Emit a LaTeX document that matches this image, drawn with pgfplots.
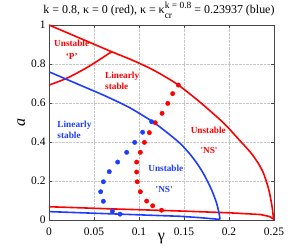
\documentclass[border=0pt]{standalone}
\usepackage{pgfplots}
\pgfplotsset{compat=1.18}
\usepackage{fontspec}
\setmainfont{Liberation Serif}
\definecolor{myred}{RGB}{255,0,0}
\definecolor{myblue}{RGB}{30,60,255}
\begin{document}
\begin{tikzpicture}
\useasboundingbox (-49bp,-31bp) rectangle (254bp,220bp);
\begin{axis}[
  scale only axis, width=225bp, height=195bp,
  xmin=0, xmax=0.25, ymin=0, ymax=1,
  xtick={0,0.05,0.1,0.15,0.2,0.25}, xticklabels={0,0.05,0.1,0.15,0.2,0.25},
  ytick={0,0.2,0.4,0.6,0.8,1}, yticklabels={0,0.2,0.4,0.6,0.8,1},
  tick align=inside, major tick length=3bp,
  grid=major, grid style={densely dotted, gray!45, line width=0.4pt},
  axis line style={gray!55!black, line width=0.6pt},
  tick style={gray!55!black, line width=0.5pt},
  ticklabel style={font=\fontsize{11.5}{13}\selectfont},
  xticklabel style={anchor=base, yshift=-15bp},
  title={k = 0.8, κ = 0 (red), κ = κ\rlap{\raisebox{-5.5bp}{\fontsize{9.5}{10}\selectfont cr}}\raisebox{4.5bp}{\fontsize{9.5}{10}\selectfont k = 0.8} = 0.23937 (blue)},
  title style={font=\fontsize{12}{13}\selectfont, at={(axis description cs:0.5,1)}, anchor=base, yshift=6bp, xshift=-2.5bp},
  xlabel={γ},
  xlabel style={font=\fontsize{16}{18}\selectfont, at={(axis description cs:0.5,0)}, anchor=base, yshift=-20bp},
  ylabel={\textit{a}},
  ylabel style={font=\fontsize{16}{18}\selectfont, at={(axis description cs:-0.1067,0.5)}, anchor=base},
]
% red outer curve
\addplot[myred, line width=1.6pt, smooth] coordinates {
(0,1.0) (0.0259,0.949) (0.0696,0.863) (0.0919,0.821) (0.1122,0.778) (0.129,0.735) (0.1437,0.692) (0.165,0.615) (0.1863,0.53) (0.1967,0.485) (0.2115,0.41) (0.2263,0.333) (0.2374,0.25) (0.2441,0.157) (0.2478,0.07) (0.2493,0.015) (0.25,0.003)
};
% red inner curve P
\addplot[myred, line width=1.6pt, smooth] coordinates {
(0,0.692) (0.0197,0.727) (0.0437,0.786) (0.0696,0.863)
};
% red lower line
\addplot[myred, line width=1.6pt] coordinates {
(0,0.068) (0.07,0.057) (0.14,0.047) (0.2,0.037) (0.235,0.028) (0.245,0.018) (0.25,0.003)
};
% blue outer curve
\addplot[myblue, line width=1.6pt, smooth] coordinates {
(0,0.76) (0.0197,0.721) (0.0567,0.648) (0.0715,0.617) (0.09,0.575) (0.1122,0.513) (0.1252,0.47) (0.1456,0.393) (0.1604,0.316) (0.1715,0.239) (0.1807,0.154) (0.1863,0.085) (0.1893,0.026) (0.19,0.003)
};
% blue lower line
\addplot[myblue, line width=1.6pt] coordinates {
(0,0.043) (0.079,0.030) (0.1456,0.019) (0.168,0.012) (0.19,0.003)
};
% red dots
\addplot[only marks, mark=*, mark size=2.2pt, myred] coordinates {
(0.125,0.05) (0.1152,0.073) (0.1085,0.097) (0.1015,0.145) (0.098,0.196) (0.0974,0.246) (0.0974,0.297) (0.1015,0.347) (0.106,0.398) (0.1115,0.448) (0.118,0.499) (0.1256,0.547) (0.132,0.598) (0.1374,0.648) (0.1437,0.692)
};
% blue dots
\addplot[only marks, mark=*, mark size=2.2pt, myblue] coordinates {
(0.0789,0.03) (0.0704,0.045) (0.0604,0.096) (0.0574,0.145) (0.0604,0.196) (0.067,0.248) (0.0763,0.297) (0.0863,0.347) (0.0952,0.398) (0.104,0.45) (0.114,0.504)
};
\node[font=\bfseries\fontsize{9.3}{13}\selectfont, text=myred, align=center, inner sep=0] at (axis cs:0.0252,0.875) {Unstable\\‘P’};
\node[font=\bfseries\fontsize{9.3}{10.5}\selectfont, text=myred, align=left, inner sep=0, anchor=west] at (axis cs:0.0622,0.713) {Linearly\\stable};
\node[font=\bfseries\fontsize{9.3}{10.5}\selectfont, text=myblue, align=left, inner sep=0, anchor=west] at (axis cs:0.0092,0.462) {Linearly\\stable};
\node[font=\bfseries\fontsize{9.3}{10.5}\selectfont, text=myred, inner sep=0] at (axis cs:0.177,0.458) {Unstable};
\node[font=\bfseries\fontsize{9.3}{10.5}\selectfont, text=myred, inner sep=0] at (axis cs:0.1778,0.355) {\textquotesingle NS\textquotesingle};
\node[font=\bfseries\fontsize{9.3}{10.5}\selectfont, text=myblue, inner sep=0] at (axis cs:0.1298,0.265) {Unstable};
\node[font=\bfseries\fontsize{9.3}{10.5}\selectfont, text=myblue, inner sep=0] at (axis cs:0.128,0.157) {\textquotesingle NS\textquotesingle};
\end{axis}
\end{tikzpicture}
\end{document}
